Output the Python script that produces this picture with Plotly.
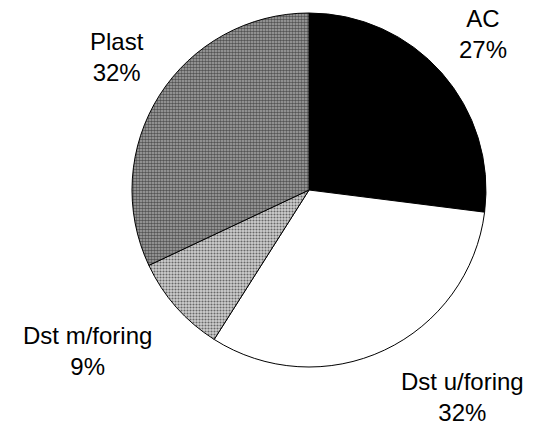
import plotly.graph_objects as go

categories = ["AC", "Dst u/foring", "Dst m/foring", "Plast"]
values = [27, 32, 9, 32]
label_text = ["AC<br>27%", "Dst u/foring<br>32%", "Dst m/foring<br>9%", "Plast<br>32%"]

W, H = 544, 426
cx, cy, r = 309, 190, 177

fig = go.Figure(go.Pie(
    labels=categories,
    values=values,
    sort=False,
    direction="clockwise",
    rotation=0,
    textinfo="none",
    hoverinfo="label+percent",
    showlegend=False,
    domain=dict(x=[(cx - r) / W, (cx + r) / W], y=[(H - cy - r) / H, (H - cy + r) / H]),
    marker=dict(
        colors=["#000000", "#ffffff", "#b8b8b8", "#909090"],
        line=dict(color="#000000", width=1),
        pattern=dict(
            shape=["", "", ".", "."],
            fgcolor="#000000",
            bgcolor=["#000000", "#ffffff", "#d0d0d0", "#a8a8a8"],
            size=[8, 8, 3, 3],
            solidity=[0.3, 0.3, 0.4, 0.55],
            fillmode="overlay",
        ),
    ),
))

# label anchor positions in pixels (x centre, y middle)
label_pos = [(483, 34), (462, 397), (87, 351), (117, 57)]
for txt, (px, py) in zip(label_text, label_pos):
    fig.add_annotation(
        x=px / W, y=(H - py) / H, xref="paper", yref="paper",
        text=txt, showarrow=False, xanchor="center", yanchor="middle",
        align="center",
        font=dict(family="Liberation Sans, Arial, sans-serif", size=24, color="#000000"),
    )

fig.update_layout(
    width=W, height=H,
    margin=dict(l=0, r=0, t=0, b=0),
    paper_bgcolor="#ffffff",
    plot_bgcolor="#ffffff",
)

fig.write_html(
    "out.html",
    config={"displayModeBar": False},
    post_script="document.body.style.margin='0';document.body.style.overflow='hidden';",
)
